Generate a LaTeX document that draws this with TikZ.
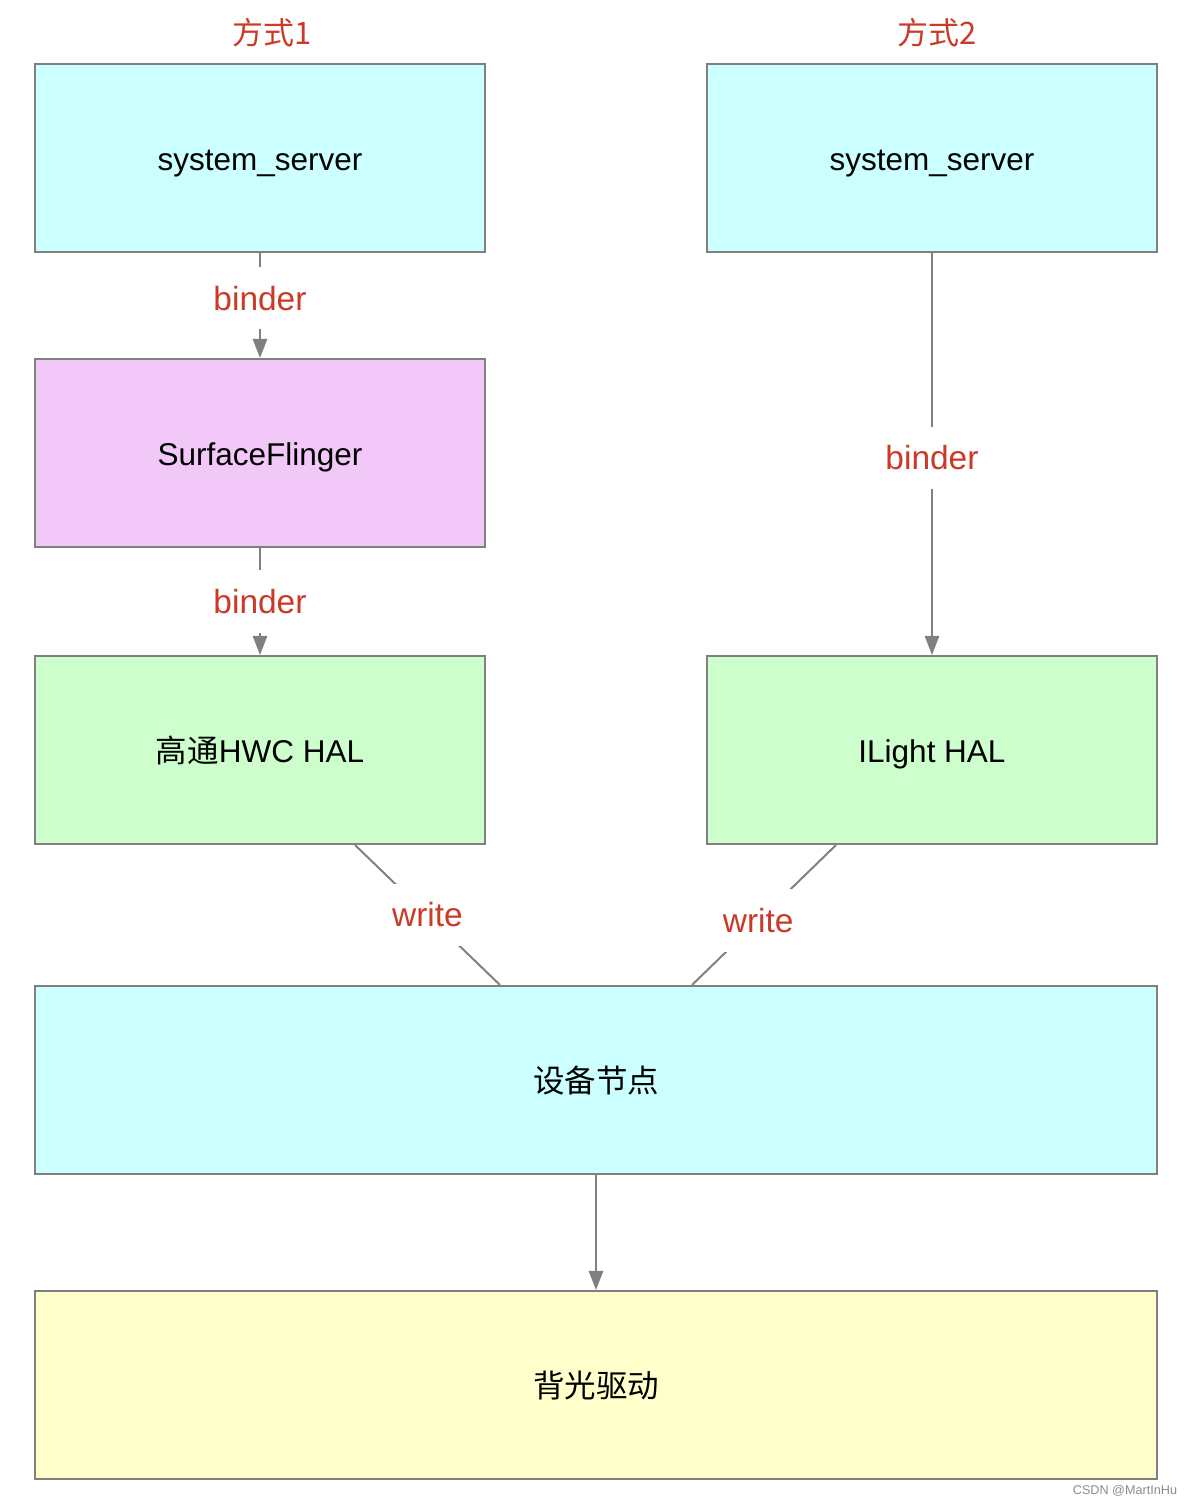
\documentclass[tikz,border=0pt]{standalone}
\usepackage{fontspec}
\setmainfont{Liberation Sans}
\newfontfamily\cjk{Noto Sans CJK SC}
\usepackage{xcolor}
\definecolor{BoxBorder}{HTML}{808080}
\definecolor{CyanFill}{HTML}{CCFFFF}
\definecolor{PinkFill}{HTML}{F2C8F9}
\definecolor{GreenFill}{HTML}{CCFFCC}
\definecolor{YellowFill}{HTML}{FFFFCC}
\definecolor{LabelRed}{HTML}{CC3A26}
\usetikzlibrary{arrows.meta, calc}

\begin{document}
\begin{tikzpicture}[x=0.025cm, y=-0.025cm,
  blockbox/.style={rectangle, draw=BoxBorder, line width=1.4pt,
                   minimum width=11.25cm, minimum height=4.7cm,
                   text height=20pt, text depth=2.4pt,
                   font=\fontsize{22.4}{26}\selectfont, inner sep=0pt},
  widebox/.style={blockbox, minimum width=28.05cm},
  edgelbl/.style={fill=white, text=LabelRed, inner sep=13.5pt,
                  font=\fontsize{23.8}{28}\selectfont},
  waytitle/.style={text=LabelRed, font=\fontsize{22}{26}\selectfont\cjk},
  conn/.style={draw=BoxBorder, line width=1.4pt,
               -{Triangle[length=0.48cm, width=0.36cm]}},
  plainconn/.style={draw=BoxBorder, line width=1.4pt},
]
\useasboundingbox[fill=white] (0,0) rectangle (1192,1506);

% titles
\node[waytitle] (way1) at (272,33) {方式1};
\node[waytitle] (way2) at (937,33) {方式2};

% way 1
\node[blockbox, fill=CyanFill] (ss1) at (260,158) {system\_server};
\node[blockbox, fill=PinkFill] (sf) at (260,453) {SurfaceFlinger};
\node[blockbox, fill=GreenFill] (hwc) at (260,750) {{\cjk 高通}HWC HAL};

% way 2
\node[blockbox, fill=CyanFill] (ss2) at (932,158) {system\_server};
\node[blockbox, fill=GreenFill] (ilight) at (932,750) {ILight HAL};

% shared
\node[widebox, fill=CyanFill] (devnode) at (596,1080) {\cjk 设备节点};
\node[widebox, fill=YellowFill] (backlight) at (596,1385) {\cjk 背光驱动};

\draw[conn] (ss1) -- node[edgelbl, pos=0.43] {binder} (sf);
\draw[conn] (sf) -- node[edgelbl, pos=0.5] {binder} (hwc);
\draw[conn] (ss2) -- node[edgelbl, pos=0.51] {binder} (ilight);
\draw[plainconn] ($(hwc.south)+(95,0)$) -- node[edgelbl] {write} ($(devnode.north)+(-96,0)$);
\draw[plainconn] ($(ilight.south)+(-96,0)$) -- node[edgelbl, pos=0.54] {write} ($(devnode.north)+(96,0)$);
\draw[conn] (devnode) -- (backlight);

\node[text=black!45, font=\fontsize{9}{11}\selectfont] (mark) at (1125,1491) {CSDN @MartInHu};
\end{tikzpicture}
\end{document}
